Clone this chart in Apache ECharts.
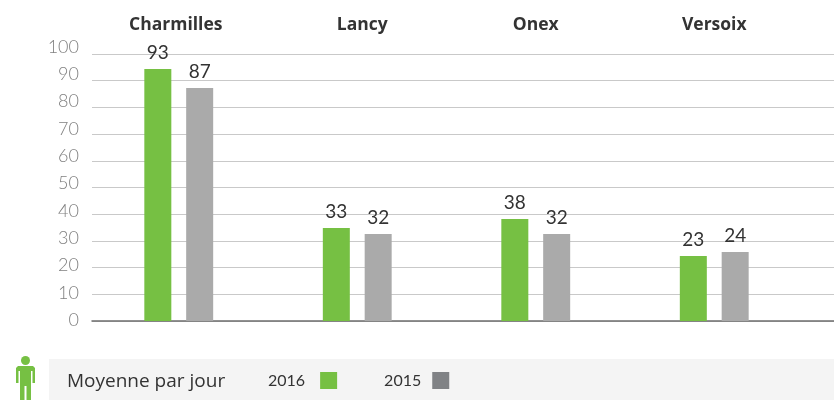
<!DOCTYPE html>
<html><head><meta charset="utf-8">
<style>html,body{margin:0;padding:0;background:#fff}#c{width:834px;height:400px}</style>
<script src="https://cdn.jsdelivr.net/npm/echarts@6/dist/echarts.min.js"></script>
</head><body><div id="c"></div>
<script>
const categories = ['Charmilles', 'Lancy', 'Onex', 'Versoix'];
const bars2016 = [94.4, 34.8, 38.2, 24.3];
const bars2015 = [87.3, 32.6, 32.6, 25.8];
const labels2016 = ['93', '33', '38', '23'];
const labels2015 = ['87', '32', '32', '24'];
const legendTitle = 'Moyenne par jour';
const GREEN = '#76c043', BAR_GRAY = '#aaaaaa', KEY_GRAY = '#808285';
const FONT = 'Lato', WIDE = 'Open Sans';

const chart = echarts.init(document.getElementById('c'), null, {renderer: 'canvas'});
function barSeries(name, data, labels, color) {
  return {
    name, type: 'bar', xAxisIndex: 1, yAxisIndex: 1, data,
    barWidth: 27, barGap: '55%',
    itemStyle: {color},
    label: {
      show: true, position: 'top', distance: 7,
      fontFamily: FONT, fontSize: 19, color: '#333333',
      formatter: p => labels[p.dataIndex]
    }
  };
}
chart.setOption({
  animation: false,
  grid: [
    {left: 92, right: 0, top: 54, height: 267},
    {left: 89.5, width: 714, top: 54, height: 267},
    {left: 30, width: 49, top: 47, height: 273}
  ],
  xAxis: [
    {gridIndex: 0, type: 'value', min: 0, max: 1, position: 'bottom',
      axisLabel: {show: false}, axisTick: {show: false}, splitLine: {show: false},
      axisLine: {show: true, lineStyle: {color: '#6d6d6d', width: 1.5}}},
    {gridIndex: 1, type: 'category', position: 'top',
      data: [
        {value: categories[0], textStyle: {padding: [0, 6, 0, 0]}},
        {value: categories[1], textStyle: {padding: [0, 0, 0, 10]}},
        categories[2],
        categories[3]
      ],
      axisLine: {show: false}, axisTick: {show: false},
      axisLabel: {margin: 20, fontFamily: WIDE, fontSize: 17.5, fontWeight: 'bold', color: '#333333'}},
    {gridIndex: 2, type: 'value', show: false, min: 0, max: 1}
  ],
  yAxis: [
    {gridIndex: 0, type: 'value', min: 0, max: 100, interval: 10,
      axisLabel: {show: false}, axisTick: {show: false},
      axisLine: {show: false},
      splitLine: {lineStyle: {color: '#c9c9c9', width: 1}}},
    {gridIndex: 1, type: 'value', min: 0, max: 100, interval: 10, show: false, splitLine: {show: false}},
    {gridIndex: 2, type: 'value', min: 0, max: 100, interval: 10, position: 'right',
      axisLine: {show: false}, axisTick: {show: false}, splitLine: {show: false},
      axisLabel: {inside: true, margin: 0, align: 'right', fontFamily: FONT, fontSize: 18, fontWeight: 300, color: '#808080'}}
  ],
  legend: {
    left: 263, top: 367, align: 'right', itemWidth: 17, itemHeight: 17, itemGap: 47,
    icon: 'rect', selectedMode: false,
    textStyle: {fontFamily: FONT, fontSize: 16, color: '#333333', padding: [0, 10, 0, 0]},
    data: [
      {name: '2016', itemStyle: {color: GREEN}},
      {name: '2015', itemStyle: {color: KEY_GRAY}, textStyle: {padding: [0, 6, 0, 0]}}
    ]
  },
  graphic: [
    {type: 'rect', z: -1, shape: {x: 49, y: 359, width: 785, height: 41}, style: {fill: '#f4f4f4'}},
    {type: 'text', x: 67, y: 372, style: {text: legendTitle, font: '19px ' + WIDE, fill: '#333333'}},
    {type: 'circle', shape: {cx: 25.5, cy: 360.5, r: 4.5}, style: {fill: GREEN}},
    {type: 'polygon', shape: {points: [[18,366],[33,366],[35,368],[35,383],[32.5,383],[32.5,371],[31,371],[31,400],[26.5,400],[26.5,386],[24.5,386],[24.5,400],[20,400],[20,371],[18.5,371],[18.5,383],[16,383],[16,368]]}, style: {fill: GREEN}}
  ],
  series: [
    barSeries('2016', bars2016, labels2016, GREEN),
    barSeries('2015', bars2015, labels2015, BAR_GRAY)
  ]
});
</script></body></html>
